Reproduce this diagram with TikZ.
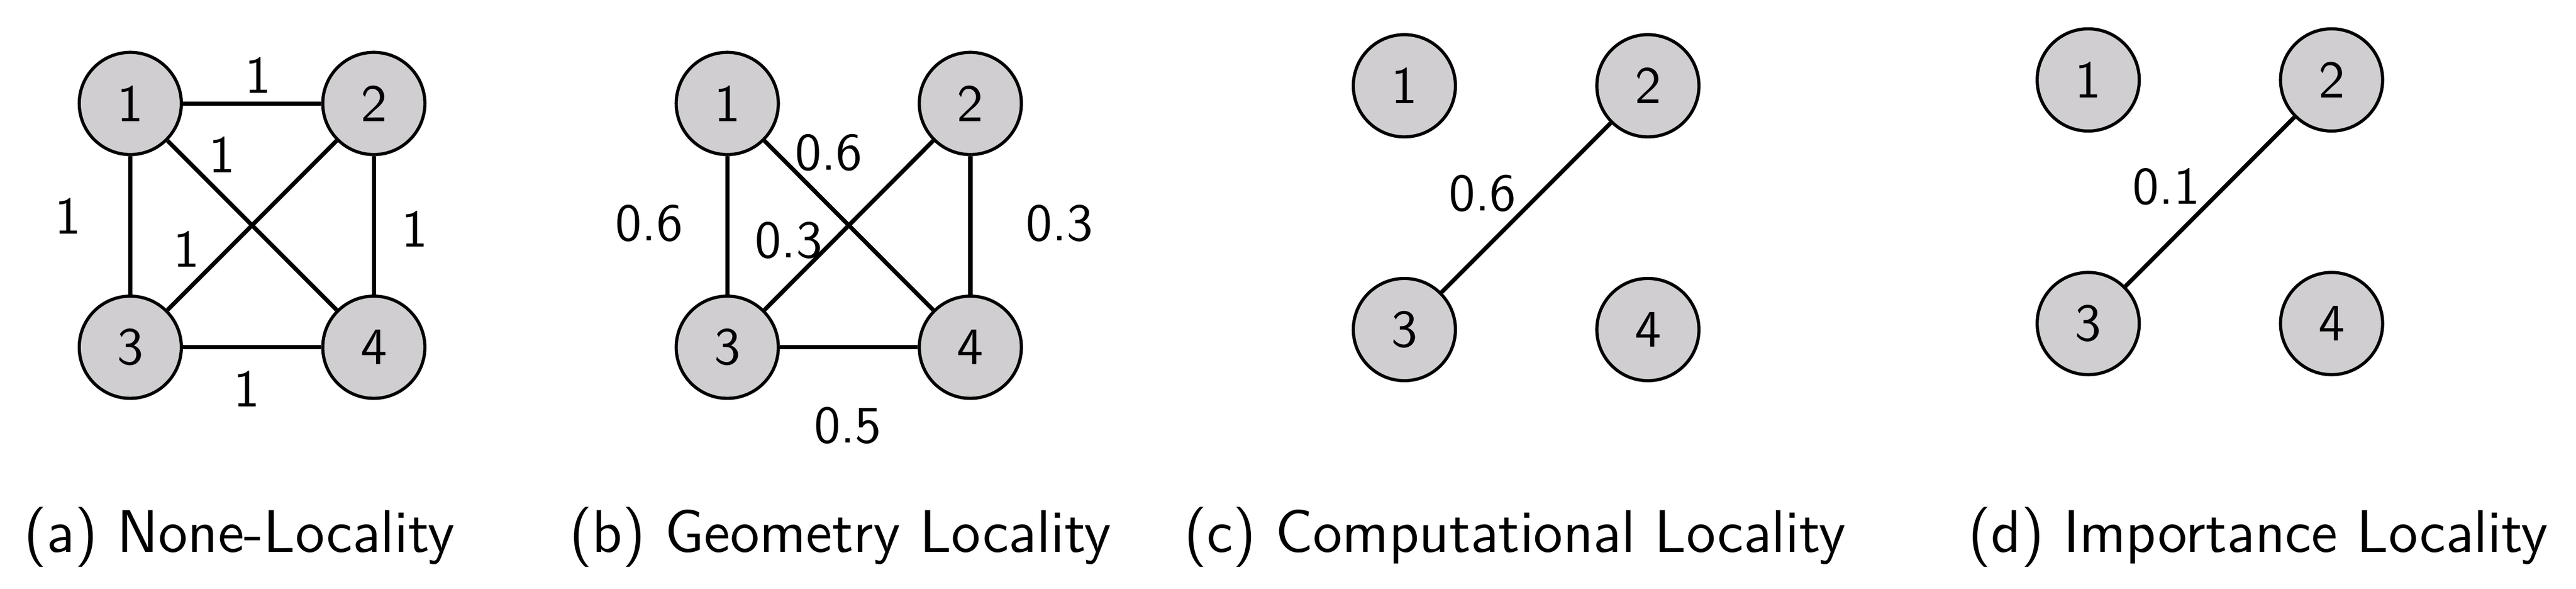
\documentclass[tikz,border=0pt]{standalone}
\usepackage{amsfonts}
\usepackage{amsmath}
\usepackage{tikz}

\definecolor{nodegray}{RGB}{208,206,209}

\begin{document}
\begin{tikzpicture}[font=\sffamily,
  vtx/.style={draw, shape=circle, fill=nodegray, semithick, minimum size=19.4pt, inner sep=0pt},
  wt/.style={inner sep=0pt},
  subcap/.style={anchor=base, inner sep=0pt, font=\sffamily\fontsize{11.4}{13.7}\selectfont}]

\useasboundingbox (0,0) rectangle (17.200,3.927);

% (a) none
\node[vtx] (a1) at (0.870,3.237) {1};
\node[vtx] (a2) at (2.496,3.237) {2};
\node[vtx] (a3) at (0.870,1.611) {3};
\node[vtx] (a4) at (2.496,1.611) {4};

\draw[-, thick] (a1) to (a2);
\draw[-, thick] (a1) to (a3);
\draw[-, thick] (a1) to (a4);
\draw[-, thick] (a2) to (a3);
\draw[-, thick] (a3) to (a4);
\draw[-, thick] (a2) to (a4);

\node[wt] (wa12) at (1.722,3.427) {1};
\node[wt] (wa14) at (1.483,2.894) {1};
\node[wt] (wa13) at (0.453,2.486) {1};
\node[wt] (wa23) at (1.245,2.267) {1};
\node[wt] (wa24) at (2.769,2.399) {1};
\node[wt] (wa34) at (1.649,1.335) {1};

\node[subcap] (capa) at (1.598,0.243) {(a) None-Locality};

% (b) geometry
\node[vtx] (b1) at (4.856,3.237) {1};
\node[vtx] (b2) at (6.479,3.237) {2};
\node[vtx] (b3) at (4.856,1.611) {3};
\node[vtx] (b4) at (6.479,1.611) {4};

\draw[-, thick] (b1) to (b3);
\draw[-, thick] (b1) to (b4);
\draw[-, thick] (b2) to (b3);
\draw[-, thick] (b3) to (b4);
\draw[-, thick] (b2) to (b4);

\node[wt] (wb13) at (4.335,2.436) {0.6};
\node[wt] (wb14) at (5.533,2.908) {0.6};
\node[wt] (wb23) at (5.267,2.323) {0.3};
\node[wt] (wb24) at (7.075,2.436) {0.3};
\node[wt] (wb34) at (5.660,1.090) {0.5};

\node[subcap] (capb) at (5.610,0.243) {(b) Geometry Locality};

% (c) computational
\node[vtx] (c1) at (9.377,3.355) {1};
\node[vtx] (c2) at (11.003,3.355) {2};
\node[vtx] (c3) at (9.377,1.729) {3};
\node[vtx] (c4) at (11.003,1.729) {4};

\draw[-, thick] (c2) to (c3);

\node[wt] (wc23) at (9.899,2.637) {0.6};

\node[subcap] (capc) at (10.116,0.243) {(c) Computational Locality};

% (d) importance
\node[vtx] (d1) at (13.943,3.394) {1};
\node[vtx] (d2) at (15.568,3.394) {2};
\node[vtx] (d3) at (13.943,1.769) {3};
\node[vtx] (d4) at (15.568,1.769) {4};

\draw[-, thick] (d2) to (d3);

\node[wt] (wd23) at (14.465,2.682) {0.1};

\node[subcap] (capd) at (15.078,0.243) {(d) Importance Locality};
\end{tikzpicture}
\end{document}
